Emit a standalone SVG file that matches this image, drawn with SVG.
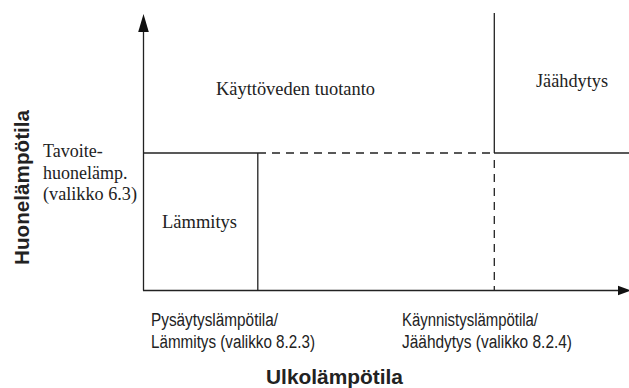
<svg xmlns="http://www.w3.org/2000/svg" width="629" height="388" viewBox="0 0 629 388">
<style>
.ln{stroke:#222;stroke-width:1.3;fill:none}
.ds{stroke:#222;stroke-width:1.3;fill:none;stroke-dasharray:8 6}
.ah{fill:#111;stroke:none}
.serif{font-family:"Liberation Serif","Times New Roman",serif;font-size:18px;fill:#222}
.sans{font-family:"Liberation Sans",Arial,sans-serif;font-size:18px;fill:#222}
.bold{font-family:"Liberation Sans",Arial,sans-serif;font-size:20px;font-weight:bold;fill:#222}
</style>
<rect width="629" height="388" fill="#fff"/>
<g id="connectors">
<line class="ln" x1="143.5" y1="30" x2="143.5" y2="290.5"/>
<polygon class="ah" points="143.5,14 138.2,32 148.8,32"/>
<line class="ln" x1="143" y1="290.5" x2="620" y2="290.5"/>
<polygon class="ah" points="631,290.5 618,285.8 618,295.2"/>
<line class="ln" x1="143" y1="153" x2="258" y2="153"/>
<line class="ds" x1="258" y1="153" x2="494" y2="153"/>
<line class="ln" x1="494" y1="153" x2="629" y2="153"/>
<line class="ln" x1="494.3" y1="13" x2="494.3" y2="153"/>
<line class="ds" x1="494.3" y1="160" x2="494.3" y2="290"/>
<line class="ln" x1="257.8" y1="153" x2="257.8" y2="290.5"/>
</g>
<g id="kayttovesi"><text class="serif" x="216" y="95" textLength="159" lengthAdjust="spacingAndGlyphs">Käyttöveden tuotanto</text></g>
<g id="jaahdytys"><text class="serif" x="536" y="87" textLength="72" lengthAdjust="spacingAndGlyphs">Jäähdytys</text></g>
<g id="lammitys"><text class="serif" x="162" y="228" textLength="75" lengthAdjust="spacingAndGlyphs">Lämmitys</text></g>
<g id="tavoite">
<text class="serif" x="43" y="157">Tavoite-</text>
<text class="serif" x="43" y="179">huonelämp.</text>
<text class="serif" x="43" y="200" textLength="94" lengthAdjust="spacingAndGlyphs">(valikko 6.3)</text>
</g>
<g id="pysaytys">
<text class="sans" x="151" y="326" textLength="127" lengthAdjust="spacingAndGlyphs">Pysäytyslämpötila/</text>
<text class="sans" x="151" y="348" textLength="164" lengthAdjust="spacingAndGlyphs">Lämmitys (valikko 8.2.3)</text>
</g>
<g id="kaynnistys">
<text class="sans" x="402" y="326" textLength="136" lengthAdjust="spacingAndGlyphs">Käynnistyslämpötila/</text>
<text class="sans" x="402" y="348" textLength="170" lengthAdjust="spacingAndGlyphs">Jäähdytys (valikko 8.2.4)</text>
</g>
<g id="x-label"><text class="bold" x="266" y="384" textLength="137" lengthAdjust="spacingAndGlyphs">Ulkolämpötila</text></g>
<g id="y-label"><text class="bold" transform="translate(28.5,265) rotate(-90)" x="0" y="0" textLength="155" lengthAdjust="spacingAndGlyphs">Huonelämpötila</text></g>
</svg>
